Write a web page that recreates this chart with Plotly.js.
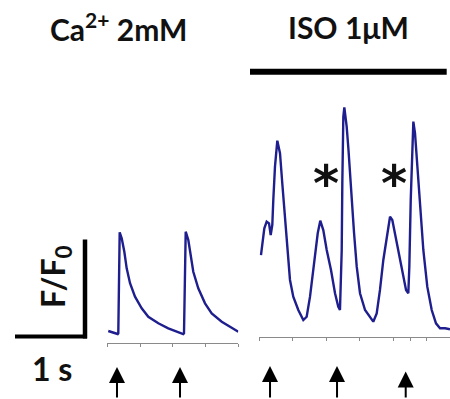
<!DOCTYPE html>
<html>
<head>
<meta charset="utf-8">
<script src="https://cdn.plot.ly/plotly-3.0.1.min.js"></script>
<style>html,body{margin:0;padding:0;background:#fff;}#chart{width:450px;height:399px;}</style>
</head>
<body>
<div id="chart"></div>
<script>
// Control (Ca2+ 2mM): time (s) and F/F0
const ctrlTime = [0.015,0.092,0.159,0.168,0.189,0.220,0.260,0.296,0.347,0.423,0.525,0.626,0.779,0.931,1.060,1.160,1.171,1.197,1.237,1.278,1.313,1.389,1.492,1.594,1.747,1.899,2.0];
const ctrlF    = [1.031,1.018,1.000,1.007,2.048,1.987,1.848,1.677,1.523,1.385,1.265,1.178,1.110,1.059,1.024,1.000,1.007,2.055,1.969,1.814,1.642,1.471,1.316,1.213,1.127,1.065,1.024];
// ISO 1uM: time (s) and F/F0
const isoTime = [0.025,0.045,0.075,0.110,0.145,0.170,0.194,0.209,0.234,0.269,0.309,0.343,0.384,0.424,0.458,0.507,0.582,0.657,0.707,0.757,0.821,0.872,0.910,0.955,1.006,1.070,1.130,1.179,1.204,1.230,1.239,1.254,1.269,1.304,1.331,1.354,1.384,1.414,1.454,1.503,1.578,1.652,1.701,1.752,1.801,1.851,1.910,1.951,1.985,2.025,2.075,2.140,2.190,2.224,2.239,2.260,2.279,2.299,2.324,2.358,2.399,2.448,2.507,2.573,2.637,2.697,2.772,2.846];
const isoF    = [1.814,1.952,2.090,2.158,2.141,2.021,2.124,2.381,2.725,2.993,2.863,2.554,2.209,1.866,1.557,1.385,1.247,1.144,1.178,1.385,1.763,2.038,2.168,2.072,1.866,1.660,1.420,1.281,1.247,1.866,2.554,3.240,3.337,3.137,2.897,2.639,2.330,2.041,1.694,1.420,1.247,1.178,1.127,1.213,1.454,1.763,2.038,2.209,2.175,2.038,1.832,1.626,1.454,1.420,1.694,2.381,2.897,3.189,3.069,2.725,2.278,1.866,1.488,1.247,1.110,1.059,1.059,1.048];
// Stimulation times (s) and extra (asterisk) transients
const ctrlStim = [0.148, 1.11];
const isoStim  = [0.16, 1.16, 2.185];
const isoExtraT = [0.996, 2.01];
const isoExtraF = [2.55, 2.55];
const ctrlTicks = [0, 0.5, 1.0, 1.5, 2.0];
const isoTicks  = [0, 0.5, 1.0, 1.5, 2.0, 2.25, 2.5];
const titles = ['Ca<sup>2+</sup> 2mM', 'ISO 1μM'];

const W = 450, H = 399;
const traceColor = '#1e1e8e';
const data = [
  {x: ctrlTime, y: ctrlF, xaxis: 'x', yaxis: 'y', mode: 'lines', line: {color: traceColor, width: 2.4}, hoverinfo: 'skip'},
  {x: isoTime, y: isoF, xaxis: 'x2', yaxis: 'y', mode: 'lines', line: {color: traceColor, width: 2.4}, hoverinfo: 'skip'}
];
const axBase = {showgrid: false, zeroline: false, showline: true, linecolor: '#8a8a8a', linewidth: 1,
  ticks: 'outside', ticklen: 3, tickcolor: '#8a8a8a', tickwidth: 1, showticklabels: false,
  anchor: 'free', tickmode: 'array', fixedrange: true};
const titleFont = {family: 'Lato, "Open Sans", sans-serif', color: '#111', size: 30, weight: 700};
const bigFont = {family: 'Lato, "Open Sans", sans-serif', color: '#111', size: 32, weight: 700};
const annotations = [];
annotations.push({xref: 'paper', yref: 'paper', x: 119/W, y: 1 - 27/H, text: titles[0], showarrow: false, font: titleFont, xanchor: 'center', yanchor: 'middle'});
annotations.push({xref: 'paper', yref: 'paper', x: 348/W, y: 1 - 27/H, text: titles[1], showarrow: false, font: titleFont, xanchor: 'center', yanchor: 'middle'});
annotations.push({xref: 'paper', yref: 'paper', x: 55/W, y: 1 - 277/H, text: 'F/F<sub>0</sub>', textangle: -90, showarrow: false, font: bigFont, xanchor: 'center', yanchor: 'middle'});
annotations.push({xref: 'paper', yref: 'paper', x: 52/W, y: 1 - 368/H, text: '1 s', showarrow: false, font: bigFont, xanchor: 'center', yanchor: 'middle'});
isoExtraT.forEach((t, i) => annotations.push({xref: 'x2', yref: 'y', x: t, y: isoExtraF[i], text: '*', showarrow: false,
  font: {family: 'DejaVu Sans', size: 50, color: '#111', weight: 700}, xanchor: 'center', yanchor: 'middle'}));
const arrowHeads = [1 - 367/H, 1 - 367/H, 1 - 366/H, 1 - 366/H, 1 - 371.5/H];
const stimList = ctrlStim.map(t => ['x', t]).concat(isoStim.map(t => ['x2', t]));
stimList.forEach((s, i) => annotations.push({xref: s[0], yref: 'paper', x: s[1], y: arrowHeads[i], ax: 0, ay: 34, text: '',
  showarrow: true, arrowhead: 2, arrowsize: 1.6, arrowwidth: 2, arrowcolor: '#000'}));

const shapes = [
  {type: 'line', xref: 'paper', yref: 'paper', x0: 250/W, x1: 446.7/W, y0: 1 - 71.7/H, y1: 1 - 71.7/H, line: {color: '#000', width: 6}},
  {type: 'line', xref: 'paper', yref: 'paper', x0: 85/W, x1: 85/W, y0: 1 - 239.5/H, y1: 1 - 338.5/H, line: {color: '#000', width: 4.5}},
  {type: 'line', xref: 'paper', yref: 'paper', x0: 15/W, x1: 87/W, y0: 1 - 336.5/H, y1: 1 - 336.5/H, line: {color: '#000', width: 4}}
];

const layout = {
  width: W, height: H, margin: {l: 0, r: 0, t: 0, b: 0, pad: 0},
  paper_bgcolor: '#fff', plot_bgcolor: '#fff', showlegend: false,
  xaxis: Object.assign({}, axBase, {domain: [107.3/W, 238.3/W], range: [0, 2.0], position: 1 - 343.3/H, tickvals: ctrlTicks}),
  xaxis2: Object.assign({}, axBase, {domain: [259.3/W, 1], range: [0, 2.846], position: 1 - 336.7/H, tickvals: isoTicks}),
  yaxis: {domain: [0, 1], range: [0.330, 4.443], visible: false, fixedrange: true},
  annotations: annotations, shapes: shapes
};
Plotly.newPlot('chart', data, layout, {staticPlot: true, displayModeBar: false});
</script>
</body>
</html>
